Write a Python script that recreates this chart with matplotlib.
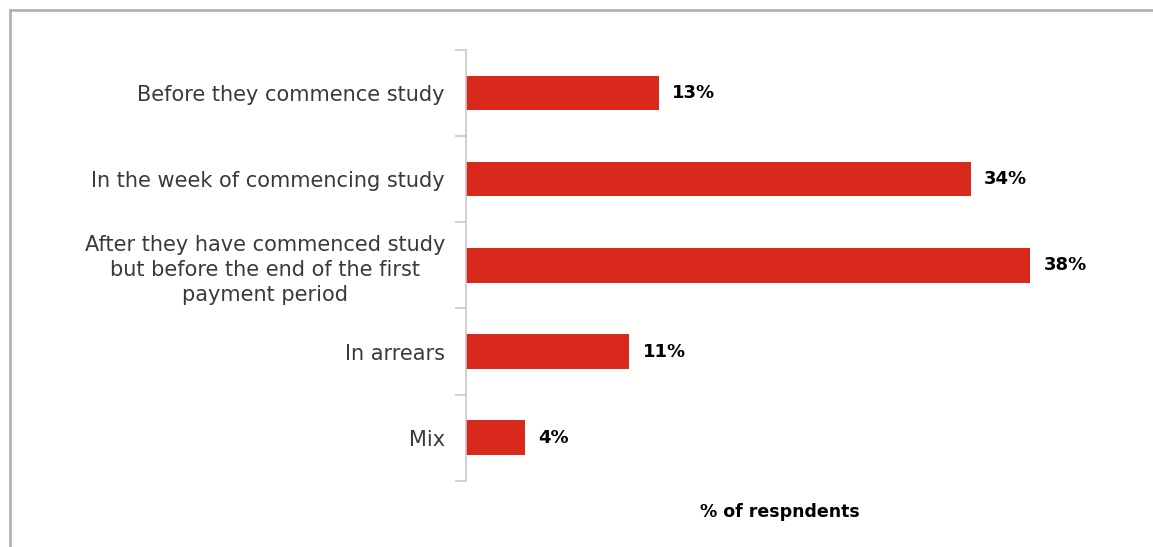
import matplotlib
matplotlib.use("Agg")
import matplotlib.pyplot as plt
from matplotlib.lines import Line2D

# payment timing responses
categories = [
    "Before they commence study",
    "In the week of commencing study",
    "After they have commenced study\nbut before the end of the first\npayment period",
    "In arrears",
    "Mix",
]
share = [13, 34, 38, 11, 4]

BAR = "#d9291c"
TXT = "#3a3a3a"
GRID = "#c8c8c8"

plt.rcParams["font.family"] = ["DejaVu Sans"]

fig = plt.figure(figsize=(11.53, 5.47), dpi=100)
ax = fig.add_axes([0.404, 0.121, 0.545, 0.788])

ys = list(range(len(categories)))
ax.barh(ys, share, height=0.4, color=BAR)
for y, v in zip(ys, share):
    ax.text(v + 0.9, y, f"{v}%", va="center", ha="left",
            fontsize=13, fontweight="bold", color="black")

ax.set_xlim(0, 42.3)
ax.set_ylim(len(categories) - 0.5, -0.5)

# labels sit at bar centres, tick marks at the category boundaries
ax.set_yticks(ys)
ax.set_yticklabels(categories, fontsize=15, color=TXT,
                   multialignment="center", linespacing=1.33)
ax.tick_params(axis="y", which="major", length=0, pad=15)
ax.set_yticks([i - 0.5 for i in range(len(categories) + 1)], minor=True)
ax.tick_params(axis="y", which="minor", length=8, width=1.2, color=GRID)
ax.set_xticks([])

for s in ("top", "right", "bottom"):
    ax.spines[s].set_visible(False)
ax.spines["left"].set_color(GRID)
ax.spines["left"].set_linewidth(1.2)

ax.set_xlabel("% of respndents", fontsize=12.5, fontweight="bold",
              color="black", labelpad=16)

# frame round the chart area
fig.add_artist(Line2D([10 / 1153, 1.0], [1 - 10 / 547] * 2,
                      color="#b3b3b3", lw=2, transform=fig.transFigure))
fig.add_artist(Line2D([10 / 1153] * 2, [0.0, 1 - 10 / 547],
                      color="#b3b3b3", lw=2, transform=fig.transFigure))

fig.savefig("out.png", dpi=100)
